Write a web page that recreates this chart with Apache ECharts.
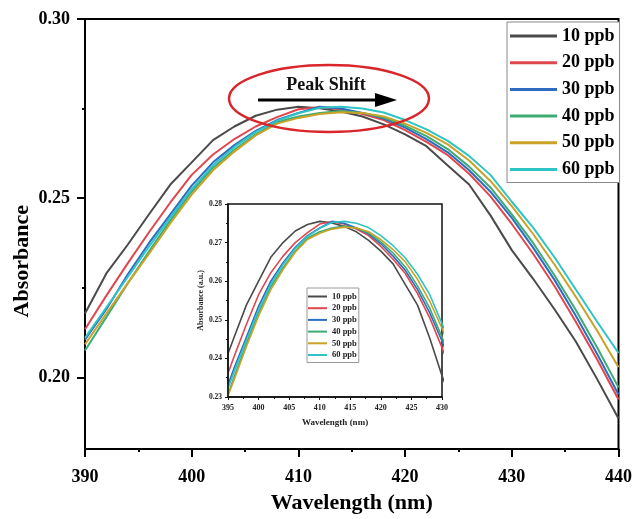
<!DOCTYPE html>
<html>
<head>
<meta charset="utf-8">
<script src="https://cdn.jsdelivr.net/npm/echarts@6/dist/echarts.min.js"></script>
<style>
html,body{margin:0;padding:0;background:#fff;}
#chart{width:635px;height:519px;}
</style>
</head>
<body>
<div id="chart"></div>
<script>
const wavelengths = [390,392,394,396,398,400,402,404,406,408,410,412,414,416,418,420,422,424,426,428,430,432,434,436,438,440];
const ppb10 = [0.2178,0.2290,0.2370,0.2455,0.2538,0.2600,0.2662,0.2700,0.2730,0.2747,0.2755,0.2751,0.2742,0.2728,0.2706,0.2678,0.2645,0.2591,0.2538,0.2452,0.2355,0.2275,0.2190,0.2100,0.1995,0.1885];
const ppb20 = [0.2134,0.2228,0.2318,0.2405,0.2488,0.2565,0.2622,0.2665,0.2700,0.2726,0.2748,0.2754,0.2748,0.2735,0.2718,0.2690,0.2657,0.2620,0.2568,0.2505,0.2428,0.2345,0.2255,0.2155,0.2050,0.1938];
const ppb30 = [0.2105,0.2190,0.2287,0.2375,0.2455,0.2535,0.2600,0.2648,0.2688,0.2718,0.2738,0.2755,0.2750,0.2738,0.2722,0.2697,0.2665,0.2628,0.2578,0.2518,0.2445,0.2362,0.2272,0.2172,0.2065,0.1952];
const ppb40 = [0.2075,0.2168,0.2262,0.2352,0.2438,0.2518,0.2585,0.2635,0.2678,0.2712,0.2728,0.2738,0.2743,0.2738,0.2725,0.2702,0.2673,0.2637,0.2588,0.2530,0.2455,0.2375,0.2285,0.2188,0.2083,0.1972];
const ppb50 = [0.2092,0.2178,0.2262,0.2345,0.2430,0.2510,0.2578,0.2630,0.2675,0.2708,0.2724,0.2735,0.2740,0.2738,0.2728,0.2708,0.2682,0.2650,0.2605,0.2548,0.2478,0.2400,0.2315,0.2225,0.2130,0.2028];
const ppb60 = [0.2110,0.2195,0.2280,0.2365,0.2447,0.2525,0.2592,0.2643,0.2685,0.2716,0.2737,0.2752,0.2755,0.2750,0.2739,0.2718,0.2692,0.2660,0.2618,0.2565,0.2490,0.2418,0.2335,0.2245,0.2155,0.2068];
const seriesNames = ['10 ppb','20 ppb','30 ppb','40 ppb','50 ppb','60 ppb'];
const seriesData = [ppb10, ppb20, ppb30, ppb40, ppb50, ppb60];
const colors = ['#4a4a4a','#e0474c','#2d6cc0','#3dab74','#c9a227','#2ec4c6'];
const mainYLabels = [0.20, 0.25, 0.30];
const mainYMinor = [0.225, 0.275];

const FONT = '"Liberation Serif","Times New Roman",serif';
const chart = echarts.init(document.getElementById('chart'), null, {renderer:'canvas'});

const series = [];
seriesData.forEach((arr, i) => {
  const pts = wavelengths.map((w, j) => [w, arr[j]]);
  series.push({
    name: seriesNames[i], type:'line', xAxisIndex:0, yAxisIndex:0,
    data: pts, symbol:'none', smooth:false, color: colors[i],
    lineStyle:{width:2, color: colors[i]}, z: 3
  });
  series.push({
    name: seriesNames[i], type:'line', xAxisIndex:1, yAxisIndex:2,
    data: pts, symbol:'none', smooth:false, color: colors[i], clip:true,
    lineStyle:{width:1.6, color: colors[i]}, z: 6
  });
});

const option = {
  animation:false,
  backgroundColor:'#fff',
  grid:[
    {left:85, top:19, width:536, height:431, show:true, borderColor:'#000', borderWidth:2, backgroundColor:'transparent', z:1},
    {left:228, top:204, width:214, height:193, show:true, borderColor:'#111', borderWidth:1.5, backgroundColor:'#fff', z:5}
  ],
  xAxis:[
    {type:'value', gridIndex:0, min:390, max:440, interval:10,
     axisLine:{show:true, onZero:false, lineStyle:{color:'#000', width:2}},
     axisTick:{show:true, inside:false, length:8, lineStyle:{color:'#000', width:2}},
     minorTick:{show:true, splitNumber:2, length:3, lineStyle:{color:'#000', width:2}},
     splitLine:{show:false},
     axisLabel:{color:'#000', fontFamily:FONT, fontWeight:'bold', fontSize:18, margin:19},
     name:'Wavelength (nm)', nameLocation:'middle', nameGap:43,
     nameTextStyle:{color:'#000', fontFamily:FONT, fontWeight:'bold', fontSize:22}
    },
    {type:'value', gridIndex:1, min:395, max:430, interval:5, z:7,
     axisLine:{show:true, onZero:false, lineStyle:{color:'#111', width:1.5}},
     axisTick:{show:true, length:3, lineStyle:{color:'#111', width:1}},
     minorTick:{show:true, splitNumber:2, length:2, lineStyle:{color:'#111', width:1}},
     splitLine:{show:false},
     axisLabel:{color:'#222', fontFamily:FONT, fontWeight:'bold', fontSize:8, margin:7},
     name:'Wavelength (nm)', nameLocation:'middle', nameGap:21,
     nameTextStyle:{color:'#222', fontFamily:FONT, fontWeight:'bold', fontSize:9}
    }
  ],
  yAxis:[
    {type:'value', gridIndex:0, min:0.18, max:0.30, position:'left',
     axisLine:{show:true, onZero:false, lineStyle:{color:'#000', width:2}},
     axisTick:{show:true, inside:false, length:8, customValues: mainYLabels, lineStyle:{color:'#000', width:2}},
     splitLine:{show:false},
     axisLabel:{color:'#000', fontFamily:FONT, fontWeight:'bold', fontSize:18, margin:15,
                customValues: mainYLabels, formatter: v => v.toFixed(2)}
    },
    {type:'value', gridIndex:0, min:0.18, max:0.30, position:'left', offset:0,
     axisLine:{show:false, onZero:false},
     axisTick:{show:true, inside:false, length:3, customValues: mainYMinor, lineStyle:{color:'#000', width:2}},
     splitLine:{show:false},
     axisLabel:{show:false}
    },
    {type:'value', gridIndex:1, min:0.23, max:0.28, interval:0.01, position:'left', z:7,
     axisLine:{show:true, onZero:false, lineStyle:{color:'#111', width:1.5}},
     axisTick:{show:true, length:3, lineStyle:{color:'#111', width:1}},
     minorTick:{show:true, splitNumber:2, length:2, lineStyle:{color:'#111', width:1}},
     splitLine:{show:false},
     axisLabel:{color:'#222', fontFamily:FONT, fontWeight:'bold', fontSize:7.5, margin:6,
                formatter: v => v.toFixed(2)},
     name:'Absorbance (a.u.)', nameLocation:'middle', nameGap:20, nameRotate:90,
     nameTextStyle:{color:'#222', fontFamily:FONT, fontWeight:'bold', fontSize:8}
    }
  ],
  legend:[
    {orient:'vertical', left:507, top:22, data:seriesNames, icon:'rect',
     itemWidth:47, itemHeight:3, itemGap:8.7, padding:[5,5,4,3],
     borderColor:'#8a8a8a', borderWidth:1, backgroundColor:'#fff',
     selectedMode:false, z:10,
     textStyle:{color:'#000', fontFamily:FONT, fontWeight:'bold', fontSize:18, lineHeight:18}
    },
    {orient:'vertical', left:307, top:288, data:seriesNames, icon:'rect',
     itemWidth:19, itemHeight:2, itemGap:2.7, padding:[4,2,3,1],
     borderColor:'#999', borderWidth:1, backgroundColor:'#fff',
     selectedMode:false, z:10,
     textStyle:{color:'#222', fontFamily:FONT, fontWeight:'bold', fontSize:8.5, lineHeight:9}
    }
  ],
  graphic:[
    {type:'text', left:11, top:205, rotation:Math.PI/2, z:20,
     style:{text:'Absorbance', fill:'#000', font:'bold 22px ' + FONT}},
    {type:'ellipse', shape:{cx:329, cy:98.5, rx:100, ry:33.5}, z:20,
     style:{fill:null, stroke:'#d9262b', lineWidth:2.5}},
    {type:'line', shape:{x1:258, y1:100, x2:378, y2:100}, z:20,
     style:{stroke:'#000', lineWidth:3}},
    {type:'polygon', shape:{points:[[375,93],[397,100],[375,107]]}, z:20,
     style:{fill:'#000'}},
    {type:'text', x:326, y:85, z:20,
     style:{text:'Peak Shift', fill:'#111', font:'bold 18px ' + FONT, textAlign:'center', textVerticalAlign:'middle'}}
  ],
  series: series
};
chart.setOption(option);
</script>
</body>
</html>
